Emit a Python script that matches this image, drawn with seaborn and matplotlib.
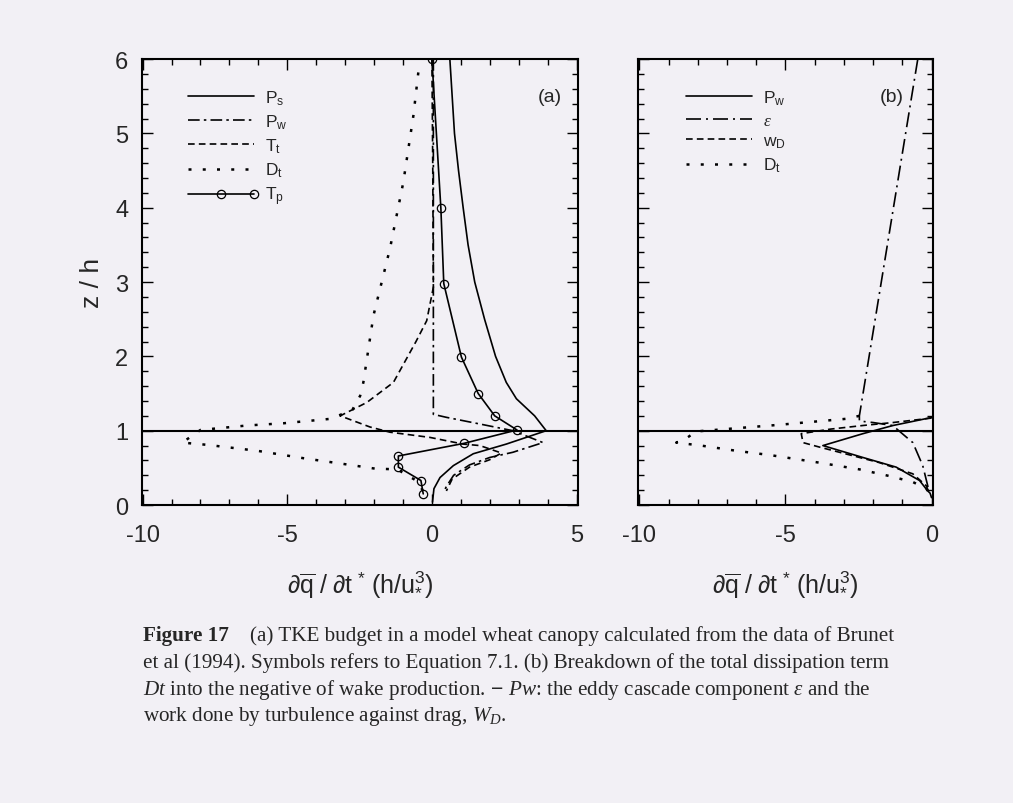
import numpy as np
import pandas as pd
import matplotlib
matplotlib.use("Agg")
import matplotlib.pyplot as plt
from matplotlib.ticker import MultipleLocator
from matplotlib.lines import Line2D
import seaborn as sns

# ---------------- data (panel a) ----------------
ps_x = [0.62, 0.70, 0.78, 0.92, 1.08, 1.25, 1.48, 1.82, 2.20, 2.57, 2.92, 3.55, 3.95, 2.57, 1.43, 0.74, 0.28, 0.07, 0.02]
ps_z = [6.0, 5.5, 5.0, 4.5, 4.0, 3.5, 3.0, 2.5, 2.0, 1.65, 1.43, 1.2, 1.0, 0.82, 0.69, 0.53, 0.37, 0.22, 0.04]

pw_x = [0.05, 0.05, 0.5, 1.66, 2.8, 3.84, 2.8, 2.0, 1.3, 0.75, 0.5, 0.4]
pw_z = [6.0, 1.22, 1.18, 1.09, 1.0, 0.84, 0.71, 0.64, 0.54, 0.40, 0.25, 0.17]

tt_x = [0.0, 0.03, 0.05, -0.18, -0.55, -1.33, -2.25, -3.17, -2.14, -1.45, -0.07, 1.08, 1.66, 2.4, 2.0, 1.3, 0.7, 0.5]
tt_z = [6.0, 4.5, 2.93, 2.48, 2.2, 1.65, 1.38, 1.2, 1.05, 0.98, 0.91, 0.82, 0.80, 0.70, 0.61, 0.51, 0.35, 0.19]

dt_x = [-0.47, -0.64, -0.99, -1.45, -2.02, -2.37, -2.48, -2.75, -3.5, -5.13, -6.39, -8.0, -8.63, -7.77, -6.04, -4.44, -2.83, -1.97, -1.2, -0.5, -0.25]
dt_z = [5.82, 5.24, 4.34, 3.45, 2.55, 1.65, 1.47, 1.28, 1.16, 1.10, 1.07, 1.01, 0.84, 0.81, 0.73, 0.63, 0.54, 0.49, 0.48, 0.32, 0.15]

tp_x = [0.0, 0.31, 0.41, 1.02, 1.60, 2.17, 2.94, 1.11, -1.16, -1.16, -0.38, -0.30]
tp_z = [6.0, 3.99, 2.98, 1.99, 1.50, 1.20, 1.01, 0.83, 0.66, 0.51, 0.33, 0.15]

# ---------------- data (panel b) ----------------
bpw_x = [0.03, -1.32, -2.35, -3.72, -2.35, -1.21, -0.41, -0.13, -0.05, 0.0]
bpw_z = [1.18, 1.07, 0.96, 0.80, 0.64, 0.51, 0.33, 0.19, 0.16, 0.10]

eps_x = [-0.47, -2.47, -2.47, -2.0, -1.33, -0.64, -0.30, -0.13, -0.10]
eps_z = [6.0, 1.20, 1.13, 1.11, 1.07, 0.84, 0.53, 0.26, 0.18]

wd_x = [0.0, -1.32, -2.35, -3.49, -4.46, -4.40, -3.84, -1.78, -0.64, -0.18, -0.10]
wd_z = [1.17, 1.11, 1.07, 1.02, 0.96, 0.84, 0.78, 0.57, 0.42, 0.26, 0.18]

bdt_x = [-2.47, -2.92, -4.07, -5.2, -8.06, -8.35, -8.74, -7.89, -6.69, -5.49, -3.84, -2.47, -1.44, -0.64, -0.18, -0.05]
bdt_z = [1.20, 1.16, 1.12, 1.08, 0.99, 0.91, 0.84, 0.80, 0.73, 0.67, 0.57, 0.48, 0.39, 0.31, 0.22, 0.15]

y_ticks = [0, 1, 2, 3, 4, 5, 6]
xa_ticks = [-10, -5, 0, 5]
xb_ticks = [-10, -5, 0]

# ---------------- style ----------------
sns.set_theme(style="white")
bg = "#f2f0f5"
plt.rcParams["font.family"] = ["Liberation Sans", "DejaVu Sans"]
plt.rcParams["axes.unicode_minus"] = False
plt.rcParams["mathtext.fontset"] = "custom"
plt.rcParams["mathtext.rm"] = "Liberation Sans"
plt.rcParams["mathtext.sf"] = "Liberation Sans"
plt.rcParams["mathtext.it"] = "Liberation Serif:italic"
plt.rcParams["mathtext.bf"] = "Liberation Sans:bold"

fig = plt.figure(figsize=(10.13, 8.04), dpi=100, facecolor=bg)
axA = fig.add_axes([0.1402, 0.3706, 0.4304, 0.5547])
axB = fig.add_axes([0.6298, 0.3706, 0.2912, 0.5547])

lw = 1.2
st_solid = "-"
st_dashdot = (0, (7, 2.5, 1.5, 2.5))
st_dash = (0, (4, 2.5))
st_dot = (0, (1.2, 4.5))
st_long = (0, (9, 3, 1.2, 3))

def draw(ax, xs, zs, ls, **kw):
    df = pd.DataFrame({"x": xs, "z": zs})
    sns.lineplot(data=df, x="x", y="z", sort=False, estimator=None, ax=ax,
                 color="black", linestyle=ls, linewidth=kw.pop("lw", lw), **kw)

# panel a
draw(axA, ps_x, ps_z, st_solid)
draw(axA, pw_x, pw_z, st_dashdot)
draw(axA, tt_x, tt_z, st_dash)
draw(axA, dt_x, dt_z, st_dot, lw=1.8)
draw(axA, tp_x, tp_z, st_solid, marker="o", markersize=6, markerfacecolor="none",
     markeredgecolor="black", markeredgewidth=0.9)

# panel b
draw(axB, bpw_x, bpw_z, st_solid)
draw(axB, eps_x, eps_z, st_long)
draw(axB, wd_x, wd_z, st_dash)
draw(axB, bdt_x, bdt_z, st_dot, lw=1.8)

xlabel = r"$\partial\overline{\mathrm{q}}\ /\ \partial\mathrm{t}\ ^{*}\ (\mathrm{h/u}_{*}^{3})$"
for ax, xl, xt in [(axA, (-10.02, 5.05), xa_ticks), (axB, (-10.05, 0.05), xb_ticks)]:
    ax.set_facecolor(bg)
    ax.axhline(1.0, color="black", lw=1.5)
    ax.set_xlim(*xl)
    ax.set_ylim(0, 6)
    ax.set_xticks(xt)
    ax.set_yticks(y_ticks)
    ax.xaxis.set_minor_locator(MultipleLocator(1))
    ax.yaxis.set_minor_locator(MultipleLocator(0.2))
    ax.tick_params(which="both", direction="in", top=True, right=True,
                   bottom=True, left=True, color="black", width=1.0)
    ax.tick_params(which="major", length=8)
    ax.tick_params(which="minor", length=4)
    ax.tick_params(axis="x", which="major", labelsize=17, pad=14)
    ax.tick_params(axis="y", which="major", labelsize=17, pad=10)
    for s in ax.spines.values():
        s.set_visible(True)
        s.set_color("black")
        s.set_linewidth(1.5)
    ax.set_xlabel(xlabel, fontsize=18, labelpad=16)
    ax.set_ylabel("")
    ax.grid(False)

axB.set_yticklabels([])
axA.set_ylabel("z / h", fontsize=19, labelpad=8)

axA.text(0.935, 0.915, "(a)", transform=axA.transAxes, fontsize=14, ha="center", va="center")
axB.text(0.86, 0.915, "(b)", transform=axB.transAxes, fontsize=14, ha="center", va="center")

def legend(ax, entries, bbox):
    handles = []
    for lab, ls, extra in entries:
        h = Line2D([], [], color="black", linestyle=ls, linewidth=extra.get("lw", lw),
                   marker=extra.get("marker", None), markersize=6, markerfacecolor="none",
                   markeredgewidth=0.9)
        handles.append((h, lab))
    leg = ax.legend([h for h, _ in handles], [l for _, l in handles], loc="upper left",
                    bbox_to_anchor=bbox, frameon=False, fontsize=12.5, handlelength=3.8,
                    handletextpad=0.6, labelspacing=0.33, borderaxespad=0)
    return leg

legA = [(r"P$_\mathrm{s}$", st_solid, {}), (r"P$_\mathrm{w}$", st_dashdot, {}),
        (r"T$_\mathrm{t}$", st_dash, {}), (r"D$_\mathrm{t}$", st_dot, {"lw": 1.8}),
        (r"T$_\mathrm{p}$", st_solid, {"marker": "o"})]
legB = [(r"P$_\mathrm{w}$", st_solid, {}), (r"$\epsilon$", st_long, {}),
        (r"w$_\mathrm{D}$", st_dash, {}), (r"D$_\mathrm{t}$", st_dot, {"lw": 1.8})]

lA = legend(axA, legA, (0.09, 0.95))
for h in lA.legend_handles:
    if h.get_marker() not in (None, "None", ""):
        h.set_markevery([1, 2])
legend(axB, legB, (0.14, 0.95))

# ---------------- caption ----------------
cap_kw = dict(fontsize=15.2, family="Liberation Serif", ha="left", va="baseline")
fig.text(143 / 1013, 1 - 641 / 804, "Figure 17", fontweight="bold", **cap_kw)
fig.text(250 / 1013, 1 - 641 / 804,
         "(a) TKE budget in a model wheat canopy calculated from the data of Brunet", **cap_kw)
fig.text(143 / 1013, 1 - 668 / 804,
         "et al (1994). Symbols refers to Equation 7.1. (b) Breakdown of the total dissipation term",
         **cap_kw)
fig.text(143 / 1013, 1 - 695 / 804,
         r"$\mathit{Dt}$ into the negative of wake production. $-$ $\mathit{Pw}$: the eddy cascade component $\mathit{\epsilon}$ and the",
         **cap_kw)
fig.text(143 / 1013, 1 - 721 / 804,
         r"work done by turbulence against drag, $\mathit{W_D}$.", **cap_kw)

fig.savefig("out.png", dpi=100, facecolor=bg)
